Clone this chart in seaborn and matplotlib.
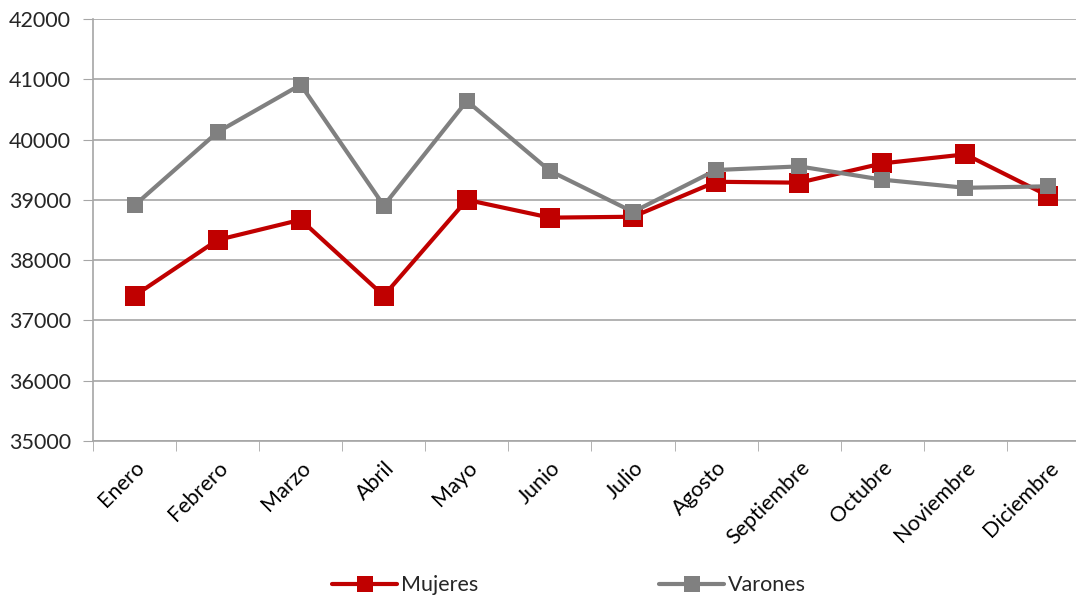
import pandas as pd
import matplotlib.pyplot as plt
import seaborn as sns
from matplotlib.ticker import FixedLocator

# Datos
meses = ["Enero", "Febrero", "Marzo", "Abril", "Mayo", "Junio", "Julio",
         "Agosto", "Septiembre", "Octubre", "Noviembre", "Diciembre"]
mujeres = [37410, 38335, 38670, 37410, 39000, 38705, 38720,
           39300, 39285, 39605, 39755, 39065]
varones = [38910, 40125, 40910, 38905, 40640, 39480, 38800,
           39495, 39555, 39335, 39200, 39225]

sns.set_style("white")
plt.rcParams["font.family"] = ["Lato", "DejaVu Sans"]

df = pd.DataFrame({"mes": list(range(12)) * 2,
                   "valor": mujeres + varones,
                   "serie": ["Mujeres"] * 12 + ["Varones"] * 12})

fig = plt.figure(figsize=(10.76, 5.99), dpi=100)
ax = fig.add_axes([93 / 1076, 1 - 441 / 599, 997 / 1076, 422 / 599])

sns.lineplot(data=df, x="mes", y="valor", hue="serie", style="serie",
             markers={"Mujeres": "s", "Varones": "s"}, dashes=False,
             palette={"Mujeres": "#C00000", "Varones": "#808080"},
             ax=ax, linewidth=3, legend=False)
for line, ms in zip(ax.lines, [14, 11]):
    line.set_markersize(ms)
    line.set_markeredgewidth(0)

ax.set_xlim(-0.5, 11.5)
ax.set_ylim(35000, 42000)
ax.set_yticks(range(35000, 42001, 1000))
ax.yaxis.grid(True, color="#A6A6A6", linewidth=1.2)
ax.set_axisbelow(True)
ax.set_xlabel("")
ax.set_ylabel("")

ax.set_xticks(range(12))
ax.set_xticklabels(meses, rotation=45, ha="right", rotation_mode="anchor")
ax.xaxis.set_minor_locator(FixedLocator([i - 0.5 for i in range(13)]))
ax.tick_params(axis="x", which="major", length=0, pad=12, labelsize=15.5, colors="black")
ax.tick_params(axis="x", which="minor", length=7, color="#A6A6A6", bottom=True)
ax.tick_params(axis="y", length=7, color="#A6A6A6", left=True, labelsize=15.5, pad=9)

for side in ["top", "right"]:
    ax.spines[side].set_visible(False)
for side in ["left", "bottom"]:
    ax.spines[side].set_color("#A6A6A6")
    ax.spines[side].set_linewidth(1.2)

# leyenda abajo
handles = [plt.Line2D([], [], color="#C00000", marker="s", markersize=11, lw=3, markeredgewidth=0),
           plt.Line2D([], [], color="#808080", marker="s", markersize=11, lw=3, markeredgewidth=0)]
fig.legend(handles, ["Mujeres", "Varones"], loc="center", bbox_to_anchor=(0.529, 0.023),
           ncol=2, frameon=False, fontsize=15.5, columnspacing=8.4, handlelength=3.0,
           handletextpad=0.2)

fig.savefig("out.png", dpi=100)
